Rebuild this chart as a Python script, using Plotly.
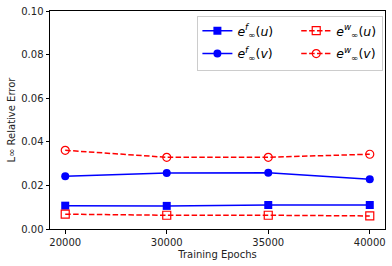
import plotly.graph_objects as go

epochs = ["20000", "30000", "35000", "40000"]
ef_u = [0.0107, 0.0106, 0.0110, 0.0110]
ef_v = [0.0242, 0.0257, 0.0258, 0.0228]
ew_u = [0.0068, 0.0063, 0.0063, 0.0060]
ew_v = [0.0361, 0.0329, 0.0329, 0.0343]

blue = "#0000ff"
red = "#ff0000"
dash = "5.5px,2.4px"

fig = go.Figure()
fig.add_trace(go.Scatter(x=epochs, y=ef_u, mode="lines+markers", name="<i>e</i><sup><i>f</i></sup><sub>∞</sub>(<i>u</i>)",
                         line=dict(color=blue, width=1.5), marker=dict(symbol="square", size=8, color=blue),
                         legend="legend"))
fig.add_trace(go.Scatter(x=epochs, y=ef_v, mode="lines+markers", name="<i>e</i><sup><i>f</i></sup><sub>∞</sub>(<i>v</i>)",
                         line=dict(color=blue, width=1.5), marker=dict(symbol="circle", size=8, color=blue),
                         legend="legend2"))
fig.add_trace(go.Scatter(x=epochs, y=ew_u, mode="lines+markers", name="<i>e</i><sup><i>w</i></sup><sub>∞</sub>(<i>u</i>)",
                         line=dict(color=red, width=1.5, dash=dash),
                         marker=dict(symbol="square-open", size=8, color=red, line=dict(width=1.2, color=red)),
                         legend="legend3"))
fig.add_trace(go.Scatter(x=epochs, y=ew_v, mode="lines+markers", name="<i>e</i><sup><i>w</i></sup><sub>∞</sub>(<i>v</i>)",
                         line=dict(color=red, width=1.5, dash=dash),
                         marker=dict(symbol="circle-open", size=8, color=red, line=dict(width=1.2, color=red)),
                         legend="legend4"))

font = dict(family="DejaVu Sans", size=10, color="#222")
legfont = dict(family="DejaVu Sans", size=12.5, color="black")


def leg(x, y):
    return dict(x=x, y=y, xanchor="left", yanchor="middle", bgcolor="rgba(0,0,0,0)",
                font=legfont, tracegroupgap=0, itemwidth=30)


fig.update_layout(
    width=392, height=266,
    margin=dict(l=50, r=7, t=11, b=37, autoexpand=False),
    paper_bgcolor="white", plot_bgcolor="white",
    font=font,
    showlegend=True,
    legend=leg(0.44, 0.908),
    legend2=leg(0.44, 0.803),
    legend3=leg(0.735, 0.908),
    legend4=leg(0.735, 0.803),
    annotations=[dict(xref="paper", yref="paper", x=0.716, y=0.851, xanchor="center", yanchor="middle",
                      text=" ", showarrow=False, width=182, height=51,
                      bordercolor="#cccccc", borderwidth=1, bgcolor="rgba(0,0,0,0)")],
)
fig.update_xaxes(type="category", range=[-0.15, 3.15], showline=True, linecolor="black", linewidth=1, mirror=True,
                 ticks="outside", ticklen=3.5, tickcolor="black", showgrid=False, zeroline=False,
                 title=dict(text="Training Epochs", font=dict(size=10, color="#222"), standoff=4))
fig.update_yaxes(range=[0, 0.10], tickvals=[0, 0.02, 0.04, 0.06, 0.08, 0.10],
                 ticktext=["0.00", "0.02", "0.04", "0.06", "0.08", "0.10"],
                 showline=True, linecolor="black", linewidth=1, mirror=True,
                 ticks="outside", ticklen=3.5, tickcolor="black", showgrid=False, zeroline=False,
                 title=dict(text="L∞ Relative Error", font=dict(size=10, color="#222"), standoff=3))
fig.write_html("out.html", post_script="document.body.style.margin='0';",
               config={"displayModeBar": False})
